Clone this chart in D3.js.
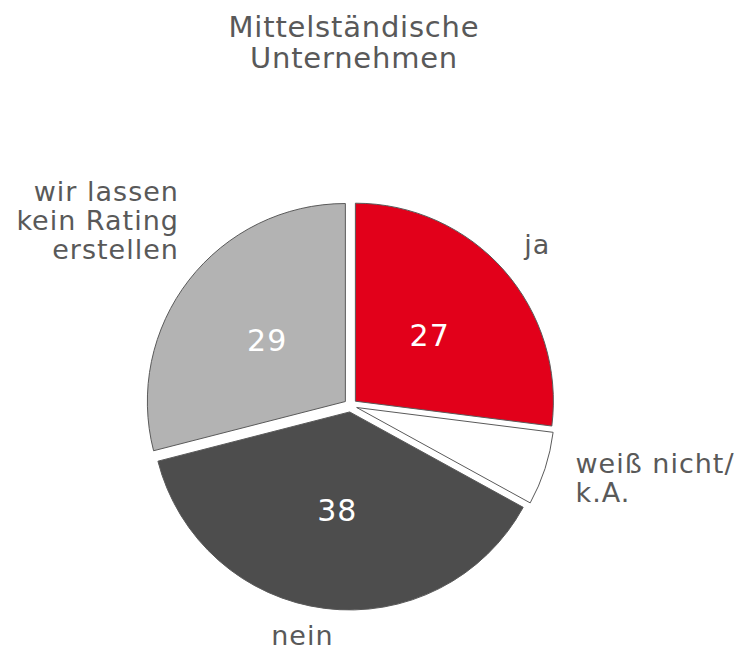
<!DOCTYPE html>
<html>
<head>
<meta charset="utf-8">
<script src="https://cdn.jsdelivr.net/npm/d3@7"></script>
<style>
  body { margin: 0; background: #fff; }
  text { font-family: "DejaVu Sans", Verdana, sans-serif; }
</style>
</head>
<body>
<div id="chart"></div>
<script>
// Data
var categories = ["ja", "weiß nicht/\nk.A.", "nein", "wir lassen\nkein Rating\nerstellen"];
var values = [27, 6, 38, 29];
var showValue = [true, false, true, true];
var colors = ["#e2001a", "#ffffff", "#4d4d4d", "#b3b3b3"];
var valueColors = ["#ffffff", "#333333", "#ffffff", "#ffffff"];
var titleLines = ["Mittelständische", "Unternehmen"];

var width = 739, height = 653;
var cx = 350.5, cy = 405.5, radius = 198, explode = 6.5;

var svg = d3.select("#chart").append("svg")
    .attr("width", width)
    .attr("height", height);

// Title
svg.append("text")
    .attr("x", 354)
    .attr("y", 37)
    .attr("text-anchor", "middle")
    .attr("fill", "#595959")
    .style("font-size", "29px")
    .style("letter-spacing", "0.8px")
  .selectAll("tspan")
    .data(titleLines)
    .enter().append("tspan")
    .attr("x", 354)
    .attr("dy", function(d, i) { return i === 0 ? 0 : 31; })
    .text(function(d) { return d; });

var pie = d3.pie().sort(null).value(function(d) { return d; });
var arcs = pie(values);

var arc = d3.arc().innerRadius(0).outerRadius(radius);

var g = svg.append("g")
    .attr("transform", "translate(" + cx + "," + cy + ")");

function shift(d, dist) {
  var a = (d.startAngle + d.endAngle) / 2;
  return [Math.sin(a) * dist, -Math.cos(a) * dist];
}

var slices = g.selectAll(".slice")
    .data(arcs)
    .enter().append("g")
    .attr("class", "slice")
    .attr("transform", function(d) {
      var s = shift(d, explode);
      return "translate(" + s[0] + "," + s[1] + ")";
    });

slices.append("path")
    .attr("d", arc)
    .attr("fill", function(d, i) { return colors[i]; })
    .attr("stroke", "#5a5a5a")
    .attr("stroke-width", 1);

// Values inside
slices.filter(function(d, i) { return showValue[i]; })
  .append("text")
    .attr("transform", function(d) { return "translate(" + arc.centroid(d) + ")"; })
    .attr("text-anchor", "middle")
    .attr("dy", "0.35em")
    .attr("fill", function(d) { return valueColors[d.index]; })
    .style("font-size", "30px")
    .style("letter-spacing", "1px")
    .text(function(d) { return d.data; });

// Outer labels: radius, anchor and nudges per label
var labelLayout = [
  {r: 245, anchor: "middle", dx: 3, dy: 1},
  {r: 245, anchor: "start", dx: -8, dy: -3},
  {r: 240, anchor: "middle", dx: -18, dy: -8},
  {r: 245, anchor: "end", dx: 22, dy: -35}
];
var lineH = 29;

g.selectAll(".label")
    .data(arcs)
    .enter().append("text")
    .attr("class", "label")
    .attr("fill", "#595959")
    .style("font-size", "27px")
    .style("letter-spacing", "1px")
    .attr("text-anchor", function(d, i) { return labelLayout[i].anchor; })
    .each(function(d, i) {
      var L = labelLayout[i];
      var p = shift(d, L.r);
      var lines = categories[i].split("\n");
      var x = p[0] + L.dx;
      var y0 = p[1] + L.dy - (lines.length - 1) * lineH / 2;
      d3.select(this).selectAll("tspan")
        .data(lines)
        .enter().append("tspan")
        .attr("x", x)
        .attr("y", function(t, j) { return y0 + j * lineH; })
        .attr("dy", "0.35em")
        .text(function(t) { return t; });
    });
</script>
</body>
</html>
